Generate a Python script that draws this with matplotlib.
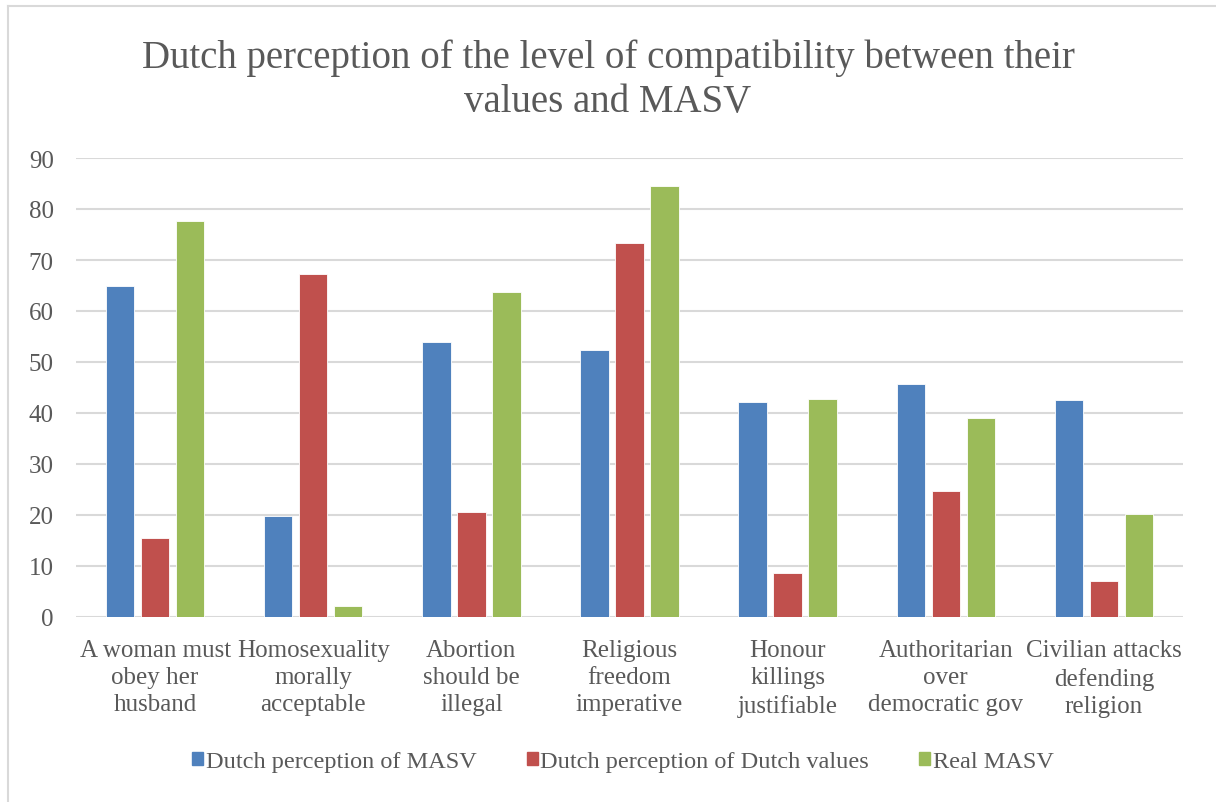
import numpy as np
import matplotlib
matplotlib.use("Agg")
import matplotlib.pyplot as plt
from matplotlib.lines import Line2D

categories = [
    "A woman must\nobey her\nhusband",
    "Homosexuality\nmorally\nacceptable",
    "Abortion\nshould be\nillegal",
    "Religious\nfreedom\nimperative",
    "Honour\nkillings\njustifiable",
    "Authoritarian\nover\ndemocratic gov",
    "Civilian attacks\ndefending\nreligion",
]
perception_masv = [64.9, 19.9, 54.0, 52.3, 42.1, 45.7, 42.6]
perception_dutch = [15.5, 67.2, 20.6, 73.3, 8.6, 24.7, 7.1]
real_masv = [77.7, 2.1, 63.8, 84.5, 42.8, 39.0, 20.2]

series = [
    ("Dutch perception of MASV", perception_masv, "#4f81bd"),
    ("Dutch perception of Dutch values", perception_dutch, "#c0504d"),
    ("Real MASV", real_masv, "#9bbb59"),
]

plt.rcParams["font.family"] = ["Liberation Serif", "DejaVu Serif"]
text_color = "#595959"

fig = plt.figure(figsize=(12.16, 8.03), dpi=100)
ax = fig.add_axes([76 / 1216, 1 - 618 / 803, (1183 - 76) / 1216, (618 - 159) / 803])

x = np.arange(len(categories))
step = 0.2215
width = 0.18
for i, (name, vals, color) in enumerate(series):
    ax.bar(x + (i - 1) * step, vals, width, color=color, label=name,
           edgecolor="white", linewidth=0.6, zorder=3)

ax.set_xlim(-0.5, len(categories) - 0.5)
ax.set_ylim(0, 90)
ax.set_yticks(range(0, 91, 10))
ax.set_xticks(x)
ax.set_xticklabels(categories, linespacing=1.3)
ax.grid(True, axis="y", color="#d9d9d9", linewidth=1.5, zorder=0)
for side in ["top", "right", "left", "bottom"]:
    ax.spines[side].set_visible(False)
ax.tick_params(axis="both", length=0, colors=text_color, labelsize=18)
ax.tick_params(axis="y", pad=16)
ax.tick_params(axis="x", pad=16)

fig.text(0.5, 1 - 80 / 803, "Dutch perception of the level of compatibility between their\nvalues and MASV",
         ha="center", va="center", fontsize=28, color=text_color, linespacing=1.24)

handles = [plt.Rectangle((0, 0), 1, 1, color=c) for _, _, c in series]
fig.legend(handles, [s[0] for s in series], loc="center", bbox_to_anchor=(623 / 1216, 1 - 763 / 803),
           ncol=3, frameon=False, fontsize=17.5, labelcolor=text_color,
           handlelength=0.45, handleheight=0.45, handletextpad=0.12, columnspacing=2.05)

# chart frame (left and top edges visible)
fig.add_artist(Line2D([8 / 1216, 8 / 1216], [0, 1 - 7 / 803], transform=fig.transFigure,
                      color="#d9d9d9", linewidth=1.5))
fig.add_artist(Line2D([8 / 1216, 1], [1 - 7 / 803, 1 - 7 / 803], transform=fig.transFigure,
                      color="#d9d9d9", linewidth=1.5))

fig.savefig("out.png", dpi=100)
